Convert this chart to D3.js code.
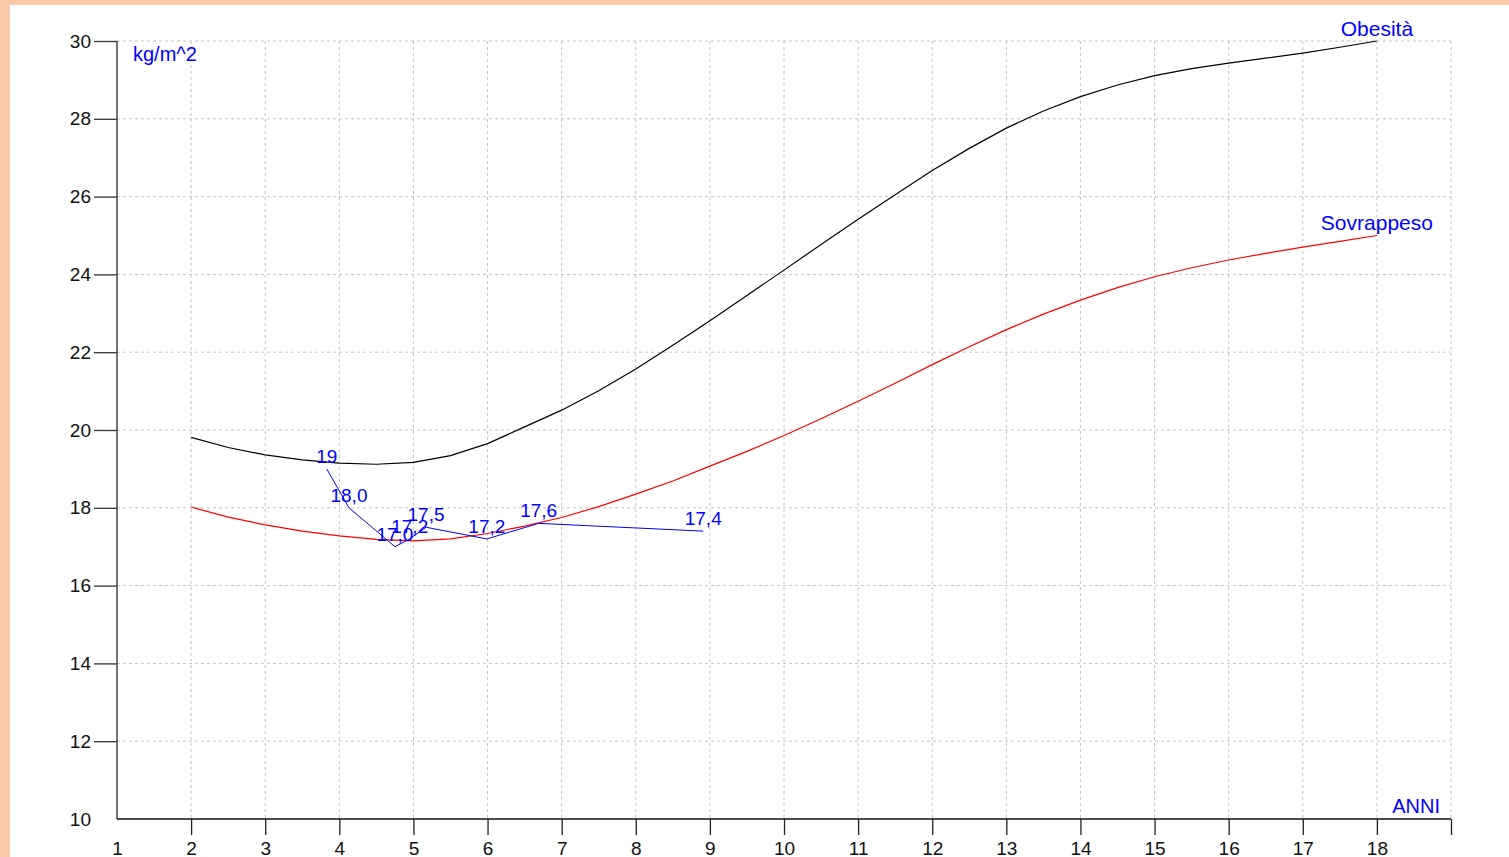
<!DOCTYPE html>
<html>
<head>
<meta charset="utf-8">
<script src="https://cdn.jsdelivr.net/npm/d3@7"></script>
<style>
  html, body { margin: 0; padding: 0; background: #f9cbaa; }
  #chart { position: absolute; left: 10px; top: 5px; }
  text { font-family: "Liberation Sans", Arial, sans-serif; }
</style>
</head>
<body>
<div id="chart"></div>
<script>
// Cole cut-offs (half-year steps, 2..18)
const ages = [2, 2.5, 3, 3.5, 4, 4.5, 5, 5.5, 6, 6.5, 7, 7.5, 8, 8.5, 9, 9.5, 10,
  10.5, 11, 11.5, 12, 12.5, 13, 13.5, 14, 14.5, 15, 15.5, 16, 16.5, 17, 17.5, 18];
const obesity = [19.81, 19.55, 19.36, 19.23, 19.15, 19.12, 19.17, 19.34, 19.65, 20.08,
  20.51, 21.01, 21.57, 22.18, 22.81, 23.46, 24.11, 24.77, 25.42, 26.05, 26.67, 27.24,
  27.76, 28.20, 28.57, 28.87, 29.11, 29.29, 29.43, 29.56, 29.69, 29.84, 30.0];
const overweight = [18.02, 17.76, 17.56, 17.40, 17.28, 17.19, 17.15, 17.20, 17.34, 17.53,
  17.75, 18.03, 18.35, 18.69, 19.07, 19.45, 19.86, 20.29, 20.74, 21.20, 21.68, 22.14,
  22.58, 22.98, 23.34, 23.66, 23.94, 24.17, 24.37, 24.54, 24.70, 24.85, 25.0];

// measured values
const visitAges = [3.83, 4.13, 4.75, 4.95, 5.17, 5.99, 6.69, 8.91];
const visitBmi = [19.0, 18.0, 17.0, 17.2, 17.5, 17.2, 17.6, 17.4];
const visitLabels = ["19", "18,0", "17,0", "17,2", "17,5", "17,2", "17,6", "17,4"];

const xTicks = d3.range(1, 20);
const yTicks = d3.range(10, 31, 2);

const width = 1499, height = 852;
const x = d3.scaleLinear().domain([1, 19]).range([107, 1441]);
const y = d3.scaleLinear().domain([10, 30]).range([814, 36]);

const svg = d3.select('#chart').append('svg')
  .attr('width', width).attr('height', height)
  .style('background', '#fff');

// grid
svg.append('g').selectAll('line').data(xTicks.filter(d => d > 1)).join('line')
  .attr('x1', d => x(d)).attr('x2', d => x(d))
  .attr('y1', y(30)).attr('y2', y(10))
  .attr('stroke', '#c4c4c4').attr('stroke-dasharray', '3,3');
svg.append('g').selectAll('line').data(yTicks.filter(d => d > 10)).join('line')
  .attr('x1', x(1)).attr('x2', x(19))
  .attr('y1', d => y(d)).attr('y2', d => y(d))
  .attr('stroke', '#c4c4c4').attr('stroke-dasharray', '3,3');

// axes
const yAxis = d3.axisLeft(y).tickValues(yTicks).tickSize(23).tickPadding(3)
  .tickFormat(d3.format('d'));
const gy = svg.append('g').attr('transform', `translate(${x(1)},0)`).call(yAxis);
gy.select('.domain').remove();
gy.selectAll('.tick line').attr('stroke', '#333').attr('stroke-width', 1.3)
  .filter(d => d === 10).remove();

const xAxis = d3.axisBottom(x).tickValues(xTicks).tickSize(16).tickPadding(7)
  .tickFormat(d => d < 19 ? d : '');
const gx = svg.append('g').attr('transform', `translate(0,${y(10)})`).call(xAxis);
gx.select('.domain').remove();
gx.selectAll('.tick line').attr('stroke', '#222').attr('stroke-width', 1.3)
  .filter(d => d === 1).remove();

svg.selectAll('.tick text').attr('font-size', 19).attr('fill', '#111')
  .style('font-family', '"Liberation Sans", Arial, sans-serif');

svg.append('line').attr('x1', x(1)).attr('x2', x(1)).attr('y1', y(30)).attr('y2', y(10))
  .attr('stroke', '#444').attr('stroke-width', 1.5);
svg.append('line').attr('x1', x(1)).attr('x2', x(19)).attr('y1', y(10)).attr('y2', y(10))
  .attr('stroke', '#111').attr('stroke-width', 1.5);

// curves
const line = d3.line().x(d => x(d[0])).y(d => y(d[1]));
svg.append('path').datum(d3.zip(ages, obesity)).attr('d', line)
  .attr('fill', 'none').attr('stroke', '#000').attr('stroke-width', 1.2);
svg.append('path').datum(d3.zip(ages, overweight)).attr('d', line)
  .attr('fill', 'none').attr('stroke', '#ff0000').attr('stroke-width', 1.2);
svg.append('path').datum(d3.zip(visitAges, visitBmi)).attr('d', line)
  .attr('fill', 'none').attr('stroke', '#0000ff').attr('stroke-width', 1);

svg.append('g').selectAll('text').data(d3.zip(visitAges, visitBmi, visitLabels)).join('text')
  .attr('x', d => x(d[0])).attr('y', d => y(d[1]) - 6)
  .attr('text-anchor', 'middle').attr('font-size', 19).attr('fill', '#0000ff')
  .text(d => d[2]);

// labels
const blue = '#0000ff';
svg.append('text').attr('x', x(18)).attr('y', y(30) - 5.5).attr('text-anchor', 'middle')
  .attr('font-size', 21).attr('fill', blue).text('Obesità');
svg.append('text').attr('x', x(18)).attr('y', y(25) - 5.5).attr('text-anchor', 'middle')
  .attr('font-size', 21).attr('fill', blue).text('Sovrappeso');
svg.append('text').attr('x', x(1) + 16).attr('y', y(30) + 20)
  .attr('font-size', 20).attr('fill', blue).text('kg/m^2');
svg.append('text').attr('x', x(19) - 11).attr('y', y(10) - 6).attr('text-anchor', 'end')
  .attr('font-size', 20).attr('fill', blue).text('ANNI');
</script>
</body>
</html>
